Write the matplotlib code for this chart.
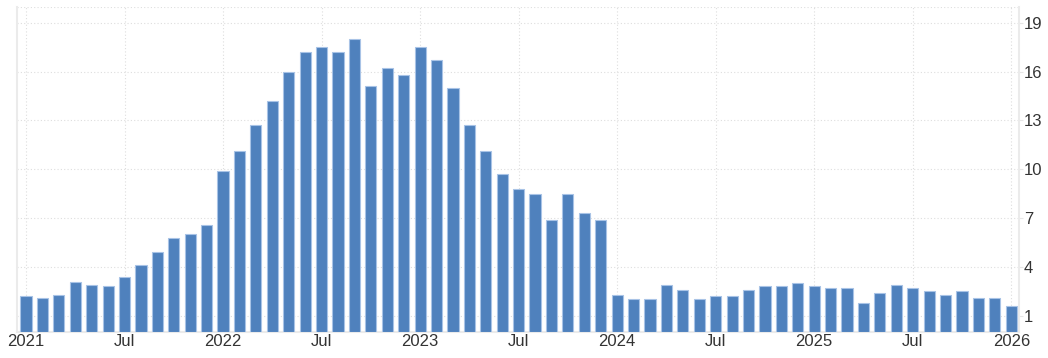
import matplotlib
matplotlib.use("Agg")
import matplotlib.pyplot as plt

# Monthly values, Jan 2021 .. Jan 2026
values_2021 = [2.2, 2.1, 2.3, 3.1, 2.9, 2.8, 3.4, 4.1, 4.9, 5.8, 6.0, 6.6]
values_2022 = [9.9, 11.1, 12.7, 14.2, 16.0, 17.2, 17.5, 17.2, 18.0, 15.1, 16.2, 15.8]
values_2023 = [17.5, 16.7, 15.0, 12.7, 11.1, 9.7, 8.8, 8.5, 6.9, 8.5, 7.3, 6.9]
values_2024 = [2.3, 2.0, 2.0, 2.9, 2.6, 2.0, 2.2, 2.2, 2.6, 2.8, 2.8, 3.0]
values_2025 = [2.8, 2.7, 2.7, 1.8, 2.4, 2.9, 2.7, 2.5, 2.3, 2.5, 2.1, 2.1]
values_2026 = [1.6]

years = [2021, 2022, 2023, 2024, 2025, 2026]
y_ticks = [1, 4, 7, 10, 13, 16, 19]

values = values_2021 + values_2022 + values_2023 + values_2024 + values_2025 + values_2026

# labels: year on January, "Jul" on July
labels = []
for y in years:
    labels.append(str(y))
    if y != years[-1]:
        labels.append("Jul")
tick_pos = [i * 6 for i in range(len(labels))]

plt.rcParams["font.family"] = ["Liberation Sans", "DejaVu Sans"]

fig = plt.figure(figsize=(10.48, 3.58), dpi=100)
ax = fig.add_axes([0.0162, 0.0726, 0.9561, 0.909])

ax.bar(range(len(values)), values, width=0.68, color="#4f81bd",
       edgecolor="#a8c3e6", linewidth=0.8, zorder=3)

ax.set_xlim(-0.55, 60.47)
ax.set_ylim(0, 20)

ax.set_xticks(tick_pos)
ax.set_xticklabels(labels)
ax.set_yticks(y_ticks)

ax.yaxis.tick_right()
ax.tick_params(axis="y", length=3, color="#e6e6e6", pad=0.5,
               labelsize=12, labelcolor="#333333")
ax.tick_params(axis="x", length=0, pad=1.5, labelsize=12, labelcolor="#333333")

ax.grid(True, linestyle=(0, (1, 2)), color="#dedede", linewidth=0.8, zorder=0)
ax.axhline(20, linestyle=(0, (1, 2)), color="#dedede", linewidth=0.8, zorder=0)

for side in ["left", "right", "bottom"]:
    ax.spines[side].set_color("#ebebeb")
    ax.spines[side].set_linewidth(1.5)
ax.spines["top"].set_visible(False)

plt.savefig("out.png", dpi=100)
